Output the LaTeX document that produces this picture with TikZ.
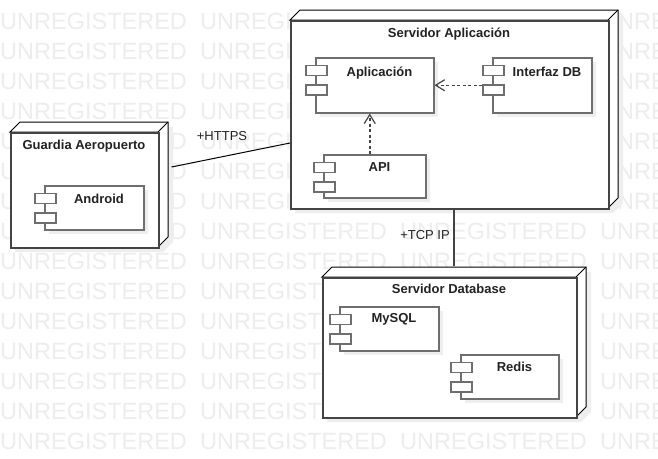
\documentclass[tikz,border=0pt]{standalone}
\usepackage{fontspec}
\setmainfont{Liberation Sans}
\usetikzlibrary{arrows.meta,calc}
\definecolor{wm}{HTML}{EDEDED}
\definecolor{shd}{HTML}{EEEEEE}
\definecolor{edgec}{HTML}{444444}
\definecolor{cb}{HTML}{6E6E6E}
\definecolor{txt}{HTML}{222222}
\tikzset{
  wmtext/.style={anchor=base west,inner sep=0pt,text=wm,font=\fontsize{23.5}{26}\selectfont},
  front/.style={draw=edgec,line width=1.5pt,fill=white,inner sep=0pt},
  backline/.style={draw=black,line width=1pt,fill=white},
  comp/.style={draw=cb,line width=1.5pt,fill=white,inner sep=0pt},
  pinrect/.style={draw=cb,line width=1.5pt,fill=white,inner sep=0pt,minimum width=21pt,minimum height=10pt,anchor=north west},
  ttl/.style={anchor=base,inner sep=0pt,text=txt,font=\fontsize{13}{15}\selectfont\bfseries},
  elabel/.style={anchor=base,inner sep=0pt,text=txt,font=\fontsize{13}{15}\selectfont},
  dep/.style={draw=edgec,line width=1.5pt,dash pattern=on 3pt off 2.5pt,-{Straight Barb[length=9pt,width=11pt,line width=1.2pt]}},
  link/.style={draw=black,line width=1pt},
  tcpl/.style={draw=edgec,line width=1.5pt},
}
% 3D deployment node: name, x1, y1, x2, y2, title, title baseline
\newcommand\mynode[7]{%
  \fill[shd] (#2+5,#3+5) -- (#2+15,#3-5) -- (#4+15,#3-5) -- (#4+15,#5-5) -- (#4+5,#5+5) -- (#2+5,#5+5) -- cycle;
  \path[backline] (#2,#3) -- (#2+10,#3-10) -- (#4+10,#3-10) -- (#4+10,#5-10) -- (#4,#5) -- (#4,#3) -- cycle;
  \draw[black,line width=1pt] (#4,#3) -- (#4+10,#3-10);
  \node[front,minimum width={#4-#2},minimum height={#5-#3},anchor=north west] (#1) at (#2,#3) {};
  \node[ttl] (#1-t) at ({(#2+#4)/2},#7) {#6};
}
% component: name, x1, y1, x2, y2, label, label baseline
\newcommand\mycomp[7]{%
  \fill[shd] (#2+5,#3+5) rectangle (#4+5,#5+5);
  \node[comp,minimum width={#4-#2},minimum height={#5-#3},anchor=north west] (#1) at (#2,#3) {};
  \node[pinrect] (#1-a) at (#2-10,#3+7.5) {};
  \node[pinrect] (#1-b) at (#2-10,#3+27) {};
  \node[ttl] (#1-t) at ({(#2+11+#4)/2},#7) {#6};
}
\begin{document}
\begin{tikzpicture}[x=1pt,y=-1pt]
\useasboundingbox (0,0) rectangle (658,458);
\fill[white] (0,0) rectangle (658,458);
\foreach \r in {0,...,14}{
  \foreach \c in {0,...,3}{
    \node[wmtext] (wm-\r-\c) at (200*\c,29.3+30*\r) {UNREGISTERED};
  }
}
% deployment nodes
\mynode{guard}{10}{132}{158}{247}{Guardia Aeropuerto}{149}
\mynode{srvapp}{290}{20}{608}{208}{Servidor Aplicación}{37.3}
\mynode{db}{322}{277}{576}{417}{Servidor Database}{293}
% components
\mycomp{apl}{315}{57}{433}{112}{Aplicación}{76}
\mycomp{idb}{492}{57}{591}{112}{Interfaz DB}{76}
\mycomp{api}{323}{154}{425}{197}{API}{171}
\mycomp{andr}{44}{185}{143}{229}{Android}{203.5}
\mycomp{mys}{339}{306}{438}{350}{MySQL}{322.7}
\mycomp{red}{460}{354}{558}{398}{Redis}{371}
% connectors
\draw[dep] ([xshift=-10pt]idb.west) -- (apl.east);
\draw[dep] ([xshift=-5pt]api.north) -- ([xshift=-5pt]apl.south);
\draw[link] ([xshift=12pt,yshift=-35pt]guard.north east) -- ([yshift=-123pt]srvapp.north west);
\draw[tcpl] ([xshift=4pt]srvapp.south) -- ([xshift=4pt,yshift=11pt]db.north);
\node[elabel] (https) at (222,140.7) {+HTTPS};
\node[elabel] (tcp) at (425,239.5) {+TCP IP};
\end{tikzpicture}
\end{document}
